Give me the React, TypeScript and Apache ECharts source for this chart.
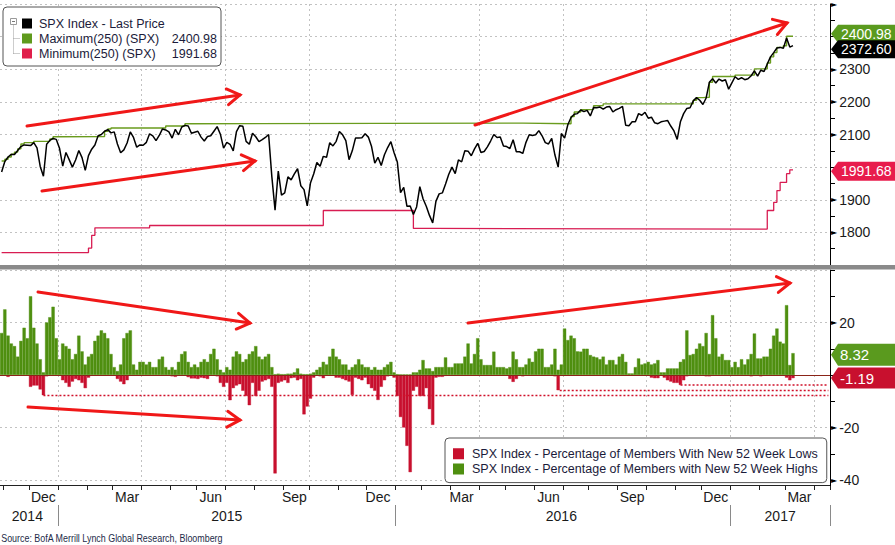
import React, { useEffect, useRef } from 'react';
import * as echarts from 'echarts';

const FONT = '"Liberation Sans", Arial, Helvetica, sans-serif';
const DAY = 86400000;
const START = Date.UTC(2014, 9, 29);
const STEP = 3.5 * DAY; // half-week buckets
const N_CATS = 258;
const MONTHS = ['Jan', 'Feb', 'Mar', 'Apr', 'May', 'Jun', 'Jul', 'Aug', 'Sep', 'Oct', 'Nov', 'Dec'];

const categories: string[] = Array.from({ length: N_CATS }, (_, j) =>
  new Date(START + j * STEP).toISOString().slice(0, 10)
);

const NAME_PRICE = 'SPX Index - Last Price';
const NAME_MAX = 'Maximum(250) (SPX)';
const NAME_MIN = 'Minimum(250) (SPX)';
const NAME_LOWS = 'SPX Index - Percentage of Members With New 52 Week Lows';
const NAME_HIGHS = 'SPX Index - Percentage of Members with New 52 Week Highs';

// SPX last price, one value per half-week bucket
const priceLast = [
  1985, 2017, 2031, 2039, 2039, 2051, 2063, 2068, 2067, 2066,
  2075, 2059, 2002, 1972, 2070, 2082, 2088, 2085, 2058, 2003,
  2045, 2023, 2000, 2022, 2051, 2029, 1990, 2035, 2055, 2068,
  2096, 2100, 2110, 2115, 2105, 2108, 2071, 2044, 2053, 2074,
  2108, 2091, 2061, 2068, 2067, 2076, 2102, 2096, 2081, 2097,
  2117, 2114, 2108, 2089, 2116, 2099, 2123, 2128, 2126, 2104,
  2107, 2110, 2092, 2080, 2094, 2096, 2110, 2124, 2101, 2058,
  2076, 2070, 2050, 2109, 2127, 2125, 2079, 2070, 2104, 2093,
  2078, 2084, 2091, 2100, 1971, 1868, 1988, 1914, 1921, 1970,
  1961, 1979, 1995, 1943, 1931, 1881, 1951, 1979, 2014, 2003,
  2033, 2030, 2075, 2065, 2079, 2109, 2099, 2081, 2023, 2050,
  2089, 2089, 2090, 2102, 2092, 2063, 2012, 2030, 2005, 2038,
  2060, 2078, 2044, 2016, 1922, 1938, 1880, 1881, 1855, 1878,
  1940, 1903, 1880, 1852, 1829, 1895, 1918, 1921, 1948, 1978,
  2000, 1980, 2022, 2016, 2050, 2049, 2035, 2056, 2073, 2045,
  2048, 2062, 2080, 2100, 2091, 2092, 2065, 2063, 2057, 2084,
  2047, 2047, 2042, 2076, 2099, 2097, 2099, 2112, 2096, 2075,
  2071, 2088, 2037, 2000, 2103, 2089, 2130, 2152, 2162, 2164,
  2175, 2170, 2174, 2157, 2183, 2182, 2184, 2178, 2184, 2186,
  2169, 2176, 2180, 2186, 2128, 2127, 2139, 2139, 2164, 2159,
  2168, 2150, 2153, 2136, 2133, 2139, 2141, 2143, 2126, 2111,
  2085, 2139, 2164, 2180, 2182, 2203, 2213, 2205, 2192, 2212,
  2260, 2271, 2258, 2270, 2264, 2268, 2239, 2258, 2277, 2269,
  2274, 2268, 2271, 2280, 2295, 2279, 2297, 2293, 2316, 2338,
  2351, 2365, 2367, 2364, 2396, 2368, 2372.6,
];

// [bucket, value] change points of the 250-day maximum
const max250Steps = [
  [0, 2019], [1, 2024], [2, 2031], [3, 2040], [4, 2046], [5, 2056], [6, 2071], [7, 2075],
  [10, 2079], [15, 2086], [16, 2093], [17, 2094], [32, 2110], [33, 2117], [34, 2120],
  [51, 2126], [57, 2133], [58, 2135], [162, 2133], [177, 2155], [178, 2169], [180, 2176],
  [182, 2177], [184, 2188], [186, 2189], [187, 2194], [215, 2205], [216, 2213], [218, 2214],
  [220, 2260], [221, 2278], [228, 2282], [234, 2301], [238, 2319], [239, 2338], [240, 2351],
  [241, 2367], [243, 2372], [244, 2400.98], [246, 2400.98],
];

// [bucket, value] change points of the 250-day minimum
const min250Steps = [
  [0, 1738], [27, 1752], [28, 1791], [29, 1814], [46, 1821], [100, 1867], [128, 1812],
  [134, 1810], [238, 1867], [240, 1892], [241, 1928], [242, 1953], [244, 1980],
  [245, 1991.68], [246, 1991.68],
];

// % of members with new 52-week highs, per half-week bucket
const highsPct = [
  16, 25, 15, 12, 11, 7, 13, 18, 14, 30,
  18, 12, 6, 1, 20, 22, 26, 14, 6, 12,
  11, 10, 6, 8, 15, 9, 4, 7, 8, 13,
  15, 17, 16, 14, 8, 3, 1.5, 4, 14, 16,
  17, 4, 2, 5, 5, 4, 5, 3, 3, 6,
  7, 3, 2, 3, 2, 5, 8, 9, 5, 3,
  4, 3, 5, 6, 5, 8, 10, 6, 2, 1,
  3, 2, 7, 9, 8, 5, 6, 8, 9, 11,
  7, 6, 7, 8, 3, 0.3, 0.5, 0.3, 0.3, 0.5,
  0.5, 1, 2.5, 0.5, 0.3, 0.3, 0.5, 1, 2, 3,
  5, 4, 7, 10, 7, 6, 4, 4, 2, 3,
  4, 6, 4, 3, 3, 2, 3, 2, 2, 3,
  4, 5, 1, 0.3, 0.2, 0.2, 0.2, 0.2, 1, 1,
  2, 5.7, 2.5, 2.5, 1.5, 3, 3, 3, 6.7, 3,
  3, 4.4, 4.4, 4.4, 7, 12, 4.4, 8, 14, 6,
  3.8, 3.8, 3.8, 8.9, 3, 3, 3, 2.5, 3, 8.9,
  6, 3, 3, 4, 6.3, 5, 9, 10, 10, 3,
  3, 4, 10, 2, 4, 17.7, 13.3, 15, 14, 9,
  8.9, 10, 10, 7.6, 7, 6.7, 6, 7, 4, 5.7,
  5.7, 4, 7, 8, 5, 0.6, 0.6, 3, 6.3, 4,
  4.4, 5, 4, 4.4, 5.7, 1, 1, 2.5, 2.5, 2.5,
  2.5, 5, 6, 17, 7.6, 8, 10, 12, 11, 16,
  8, 22.8, 14, 7, 8, 5.7, 5.7, 3, 5, 3,
  6, 4, 6, 8, 15.8, 6.3, 6.3, 7, 7, 10,
  15, 17.7, 12.7, 12, 26.6, 3.8, 8.32,
];

// % of members with new 52-week lows: [bucket, value] (other buckets are zero)
const lowsPct = [
  [2, -0.7], [9, -4.5], [10, -4], [11, -4], [12, -5.5], [13, -7.7], [14, -0.5], [19, -2], [20, -3],
  [21, -4.5], [22, -2.5], [23, -1.5], [24, -2], [25, -3], [26, -5], [27, -1], [36, -1.5], [37, -2.5],
  [38, -3.5], [39, -2], [53, -0.5], [54, -0.7], [58, -0.8], [59, -1.3], [60, -1.3], [61, -1.5],
  [62, -1], [63, -1.2], [64, -1.5], [67, -0.5], [68, -3], [69, -4.5], [70, -3], [71, -9.6], [72, -5],
  [73, -4], [74, -3.5], [75, -6], [76, -8], [77, -11.5], [78, -3], [79, -8], [80, -6], [81, -2.5],
  [82, -2], [83, -1.5], [84, -4.5], [85, -37.5], [86, -3], [87, -2.5], [88, -2], [89, -3], [90, -1.2],
  [91, -1], [92, -2], [93, -1.5], [94, -15], [95, -12], [96, -9], [97, -1], [99, -0.5], [100, -1.2],
  [104, -1], [105, -1], [106, -1.5], [107, -2], [108, -2.5], [109, -7.6], [110, -1], [111, -1.5],
  [112, -2], [113, -1], [114, -3.5], [115, -5], [116, -6], [117, -9.5], [118, -4.5], [119, -2],
  [120, -0.5], [122, -1], [123, -8], [124, -16], [125, -20], [126, -27], [127, -37], [128, -6],
  [129, -4.5], [130, -8], [131, -8], [132, -5], [133, -13], [134, -19], [135, -1], [136, -0.7],
  [137, -0.7], [138, -0.3], [158, -1.5], [159, -2.6], [160, -1.5], [162, -0.5], [172, -0.5],
  [173, -5.8], [202, -1], [203, -1.2], [204, -1.2], [206, -1], [207, -2], [208, -2.5], [209, -3],
  [210, -3], [211, -3.8], [212, -2], [213, -0.5], [219, -0.5], [220, -0.5], [233, -0.5], [236, -0.5],
  [244, -1], [245, -2], [246, -1.19],
];

// dotted reference levels in the lower panel
const lowsLevelA = [[13, -7.8], [257, -7.8]];
const lowsLevelB = [[173, -0.4], [173, -5.9], [257, -5.9]];
const lowsLevelC = [[211, -0.8], [211, -3.8], [257, -3.8]];

// hand-drawn annotation arrows (pixel positions): [x1, y1, x2(tip), y2(tip)]
const ARROWS = [
  [27, 126, 240, 95],
  [42, 191, 255, 161],
  [475, 125, 787, 23],
  [38, 292, 250, 323],
  [28, 407, 240, 420],
  [468, 323, 790, 283],
];

// ---------- axis helpers ----------
const idxOf = (t: number) => Math.round((t - START) / STEP);
const monthTicks = new Set<number>();
const quarterTicks = new Set<number>();
for (let y = 2014; y <= 2017; y++) {
  for (let m = 0; m < 12; m++) {
    const j = idxOf(Date.UTC(y, m, 1));
    if (j <= 0 || j >= N_CATS) continue;
    monthTicks.add(j);
    if (m % 3 === 0) quarterTicks.add(j);
  }
}
const yearTicks = new Set<number>([2015, 2016, 2017].map((y) => idxOf(Date.UTC(y, 0, 1))));
const monthLabels: Record<number, string> = {};
for (let y = 2014; y <= 2017; y++) {
  for (const m of [2, 5, 8, 11]) {
    const j = Math.floor((Date.UTC(y, m, 15, 12) - START) / STEP);
    if (j >= 0 && j < N_CATS) monthLabels[j] = MONTHS[m];
  }
}
const yearLabels: Record<number, string> = {};
for (let y = 2014; y <= 2017; y++) {
  const first = Math.max(0, idxOf(Date.UTC(y, 0, 1)));
  const last = Math.min(N_CATS - 1, idxOf(Date.UTC(y + 1, 0, 1)) - 1);
  if (first <= last) yearLabels[Math.floor((first + last) / 2)] = String(y);
}

const GRID_LINE = { show: true, lineStyle: { color: '#c2c2c2', width: 1, type: [2, 3] } };
const MARK_RICH = {
  m: { fontSize: 8, color: '#000', fontFamily: '"DejaVu Sans", sans-serif', padding: [0, 2, 0, 0] },
  v: { fontSize: 14, color: '#1a1a1a', fontFamily: FONT },
};
// tick labels that sit under the last-value tags are left out
const TOP_LABELS_UNDER_TAGS = [2000, 2400];

const lastVal = (arr: any[]) => {
  const l = arr[arr.length - 1];
  return Array.isArray(l) ? l[1] : l;
};

const GREEN_BAR = '#4f8f10';
const RED_BAR = '#c8102e';

export default function App() {
  const ref = useRef<HTMLDivElement>(null);

  useEffect(() => {
    const el = ref.current!;
    const chart = echarts.init(el, null, { renderer: 'svg' });

    const lastMax = lastVal(max250Steps);
    const lastMin = lastVal(min250Steps);
    const lastPrice = lastVal(priceLast);
    const lastHigh = lastVal(highsPct);
    const lastLow = lastVal(lowsPct);
    const legendValues: Record<string, string> = {
      [NAME_MAX]: lastMax.toFixed(2),
      [NAME_MIN]: lastMin.toFixed(2),
    };

    const xBase = { type: 'category', data: categories, boundaryGap: true };

    const option: any = {
      animation: false,
      backgroundColor: '#ffffff',
      textStyle: { fontFamily: FONT },
      grid: [
        { left: 0, right: 65, top: 2, height: 263 },
        { left: 0, right: 65, top: 270, height: 210 },
      ],
      xAxis: [
        {
          ...xBase, gridIndex: 0,
          axisLine: { show: false }, axisTick: { show: false }, axisLabel: { show: false },
          splitLine: { ...GRID_LINE, interval: (i: number) => quarterTicks.has(i) },
        },
        {
          ...xBase, gridIndex: 1, position: 'bottom', offset: 5,
          axisLine: { show: true, onZero: false, lineStyle: { color: '#222', width: 1 } },
          axisTick: { show: true, interval: (i: number) => monthTicks.has(i), length: 5, lineStyle: { color: '#222' } },
          axisLabel: {
            show: true, interval: (i: number) => !!monthLabels[i],
            formatter: (_v: string, i: number) => monthLabels[i] || '',
            margin: 5, fontSize: 14, color: '#1a1a1a', fontFamily: FONT,
          },
          splitLine: { ...GRID_LINE, interval: (i: number) => quarterTicks.has(i) },
        },
        {
          ...xBase, gridIndex: 1, position: 'bottom', offset: 25,
          axisLine: { show: false, onZero: false },
          axisTick: { show: true, interval: (i: number) => yearTicks.has(i), length: 21, lineStyle: { color: '#8a8a8a' } },
          axisLabel: {
            show: true, interval: (i: number) => !!yearLabels[i],
            formatter: (_v: string, i: number) => yearLabels[i] || '',
            margin: 4, fontSize: 14, color: '#1a1a1a', fontFamily: FONT,
          },
          splitLine: { show: false },
        },
      ],
      yAxis: [
        {
          type: 'value', gridIndex: 0, position: 'right', min: 1700, max: 2500, interval: 50,
          axisLine: { show: true, lineStyle: { color: '#000', width: 1 } },
          axisTick: { show: true, length: 5, lineStyle: { color: '#000' } },
          splitLine: { show: false },
          axisLabel: {
            margin: 1, rich: MARK_RICH,
            formatter: (v: number) => {
              if (v % 100 !== 0 || v === 1700 || TOP_LABELS_UNDER_TAGS.includes(v)) return '';
              if (v === 2500) return '{m|►}';
              return `{m|►}{v|${v}}`;
            },
          },
        },
        {
          type: 'value', gridIndex: 0, position: 'right', min: 1700, max: 2500, interval: 100,
          axisLine: { show: false }, axisTick: { show: false }, axisLabel: { show: false },
          splitLine: GRID_LINE,
        },
        {
          type: 'value', gridIndex: 1, position: 'right', min: -40, max: 40, interval: 10,
          axisLine: { show: true, lineStyle: { color: '#000', width: 1 } },
          axisTick: { show: true, length: 5, lineStyle: { color: '#000' } },
          splitLine: { show: false },
          axisLabel: {
            margin: 1, rich: MARK_RICH,
            formatter: (v: number) => (v === 20 || v === -20 || v === -40 ? `{m|►}{v|${v}}` : ''),
          },
        },
        {
          type: 'value', gridIndex: 1, position: 'right', min: -40, max: 40, interval: 20,
          axisLine: { show: false }, axisTick: { show: false }, axisLabel: { show: false },
          splitLine: GRID_LINE,
        },
      ],
      legend: [
        {
          data: [NAME_PRICE, NAME_MAX, NAME_MIN],
          selectedMode: false, orient: 'vertical', left: 3, top: 7,
          padding: [9, 4, 5, 19], itemGap: 0, itemWidth: 10, itemHeight: 10, icon: 'rect',
          backgroundColor: '#ffffff', borderColor: '#555', borderWidth: 1, borderRadius: 4,
          formatter: (name: string) => {
            const val = legendValues[name];
            return val ? `{n|${name}}{v|${val}}` : `{n|${name}}`;
          },
          textStyle: {
            fontFamily: FONT, fontSize: 12.5, color: '#1b1b3a', lineHeight: 15,
            rich: {
              n: { width: 128, fontSize: 12.5, fontFamily: FONT, color: '#1b1b3a', padding: [0, 0, 0, 2] },
              v: { width: 50, align: 'right', fontSize: 12.5, fontFamily: FONT, color: '#1b1b3a' },
            },
          },
          z: 20,
        },
        {
          data: [NAME_LOWS, NAME_HIGHS],
          selectedMode: false, orient: 'vertical', left: 445, top: 438,
          padding: [8, 9, 6, 8], itemGap: 0, itemWidth: 9, itemHeight: 9, icon: 'rect',
          backgroundColor: '#ffffff', borderColor: '#555', borderWidth: 1, borderRadius: 4,
          formatter: (name: string) => `{t|${name}}`,
          textStyle: {
            fontFamily: FONT, fontSize: 12.5, color: '#1b1b3a', lineHeight: 15.3,
            rich: { t: { fontSize: 12.5, fontFamily: FONT, color: '#1b1b3a', padding: [0, 0, 0, 4] } },
          },
          z: 20,
        },
      ],
      series: [
        {
          name: NAME_MAX, type: 'line', step: 'end', xAxisIndex: 0, yAxisIndex: 0,
          data: max250Steps, symbol: 'none', color: '#5f9a1c',
          lineStyle: { width: 1.4, color: '#6a9c1e' }, z: 3,
        },
        {
          name: NAME_MIN, type: 'line', step: 'end', xAxisIndex: 0, yAxisIndex: 0,
          data: min250Steps, symbol: 'none', color: '#e01f4b',
          lineStyle: { width: 1.3, color: '#d81c52' }, z: 3,
        },
        {
          name: NAME_PRICE, type: 'line', xAxisIndex: 0, yAxisIndex: 0,
          data: priceLast, symbol: 'none', color: '#000',
          lineStyle: { width: 1.5, color: '#000' }, z: 4,
        },
        {
          name: NAME_LOWS, type: 'bar', xAxisIndex: 1, yAxisIndex: 2,
          data: lowsPct, color: RED_BAR, barWidth: '100%', barGap: '-100%', z: 2,
          itemStyle: { color: RED_BAR, borderColor: RED_BAR, borderWidth: 0.4 },
        },
        {
          name: NAME_HIGHS, type: 'bar', xAxisIndex: 1, yAxisIndex: 2,
          data: highsPct, color: GREEN_BAR, barWidth: '100%', barGap: '-100%', z: 2,
          itemStyle: { color: GREEN_BAR, borderColor: GREEN_BAR, borderWidth: 0.4 },
          markLine: {
            silent: true, symbol: ['none', 'none'], label: { show: false },
            lineStyle: { color: '#8b2418', width: 1, type: 'solid' },
            data: [{ yAxis: 0 }],
          },
        },
        ...[lowsLevelA, lowsLevelB, lowsLevelC].map((d) => ({
          type: 'line', xAxisIndex: 1, yAxisIndex: 2, data: d, symbol: 'none', silent: true,
          lineStyle: { color: '#d0102a', width: 1.6, type: [2, 2] }, z: 3,
        })),
      ],
    };

    chart.setOption(option);

    const py0 = (v: number) => chart.convertToPixel({ yAxisIndex: 0 }, v) as number;
    const py2 = (v: number) => chart.convertToPixel({ yAxisIndex: 2 }, v) as number;

    const tag = (yc: number, h: number, color: string, text: string, fs: number, tx: number) => ({
      type: 'group', z: 100,
      children: [
        {
          type: 'polygon', z: 100,
          shape: { points: [[831, yc], [838, yc - h / 2], [895, yc - h / 2], [895, yc + h / 2], [838, yc + h / 2]] },
          style: { fill: color },
        },
        {
          type: 'text', z: 101, x: tx, y: yc,
          style: {
            text, fill: '#ffffff', font: `${fs}px ${FONT}`,
            align: 'left', textAlign: 'left', verticalAlign: 'middle', textVerticalAlign: 'middle',
          },
        },
      ],
    });

    const greenC = py0(lastMax) - 2.5;
    const blackC = Math.max(py0(lastPrice), greenC + 15.5);
    const redC = py0(lastMin) + 1.5;
    const hiC = py2(lastHigh) + 1.5;
    const loC = Math.max(py2(lastLow), hiC + 22);

    const arrowEls: any[] = [];
    ARROWS.forEach(([x1, y1, x2, y2]) => {
      const ang = Math.atan2(y1 - y2, x1 - x2);
      const L = 15;
      const a1 = ang + (32 * Math.PI) / 180;
      const a2 = ang - (32 * Math.PI) / 180;
      arrowEls.push({
        type: 'polyline', z: 60,
        shape: { points: [[x1, y1], [x2, y2]] },
        style: { stroke: '#f01818', lineWidth: 3, fill: null, lineCap: 'round' },
      });
      arrowEls.push({
        type: 'polyline', z: 60,
        shape: { points: [[x2 + L * Math.cos(a1), y2 + L * Math.sin(a1)], [x2, y2], [x2 + L * Math.cos(a2), y2 + L * Math.sin(a2)]] },
        style: { stroke: '#f01818', lineWidth: 3, fill: null, lineCap: 'round', lineJoin: 'miter' },
      });
    });

    const treeStroke = '#9a9a9a';
    const elements: any[] = [
      { type: 'rect', z: 50, shape: { x: 0, y: 265, width: 895, height: 4.5 }, style: { fill: '#8a8a8a' } },
      { type: 'line', z: 50, shape: { x1: 830.5, y1: 478, x2: 830.5, y2: 486 }, style: { stroke: '#000', lineWidth: 1 } },
      { type: 'rect', z: 100, shape: { x: 10.5, y: 18.5, width: 6, height: 6 }, style: { stroke: treeStroke, fill: '#fff', lineWidth: 1 } },
      { type: 'line', z: 100, shape: { x1: 12, y1: 21.5, x2: 15, y2: 21.5 }, style: { stroke: '#777', lineWidth: 1 } },
      { type: 'line', z: 100, shape: { x1: 13.5, y1: 24.5, x2: 13.5, y2: 53.5 }, style: { stroke: treeStroke, lineWidth: 1, lineDash: [1, 1] } },
      { type: 'line', z: 100, shape: { x1: 13.5, y1: 38.5, x2: 20, y2: 38.5 }, style: { stroke: treeStroke, lineWidth: 1, lineDash: [1, 1] } },
      { type: 'line', z: 100, shape: { x1: 13.5, y1: 53.5, x2: 20, y2: 53.5 }, style: { stroke: treeStroke, lineWidth: 1, lineDash: [1, 1] } },
      ...arrowEls,
      tag(greenC, 18, '#5a9a1e', lastMax.toFixed(2), 14, 841),
      tag(blackC, 18, '#000000', lastPrice.toFixed(2), 14, 841),
      tag(redC, 19, '#e81c4c', lastMin.toFixed(2), 14, 841),
      tag(hiC, 22, '#5a9a1e', lastHigh.toFixed(2), 15, 840),
      tag(loC, 21, '#c8102e', lastLow.toFixed(2), 15, 840),
      {
        type: 'text', z: 100, x: 1, y: 538, scaleX: 0.81, originX: 1, originY: 538,
        style: {
          text: 'Source: BofA Merrill Lynch Global Research, Bloomberg',
          fill: '#1c2a48', font: '11px "Liberation Sans Narrow", "Arial Narrow", "Liberation Sans", sans-serif',
          align: 'left', textAlign: 'left', verticalAlign: 'middle', textVerticalAlign: 'middle',
        },
      },
    ];

    chart.setOption({ graphic: { elements } });

    return () => chart.dispose();
  }, []);

  return (
    <div
      ref={ref}
      style={{ position: 'fixed', left: 0, top: 0, width: 895, height: 545, background: '#fff' }}
    />
  );
}
